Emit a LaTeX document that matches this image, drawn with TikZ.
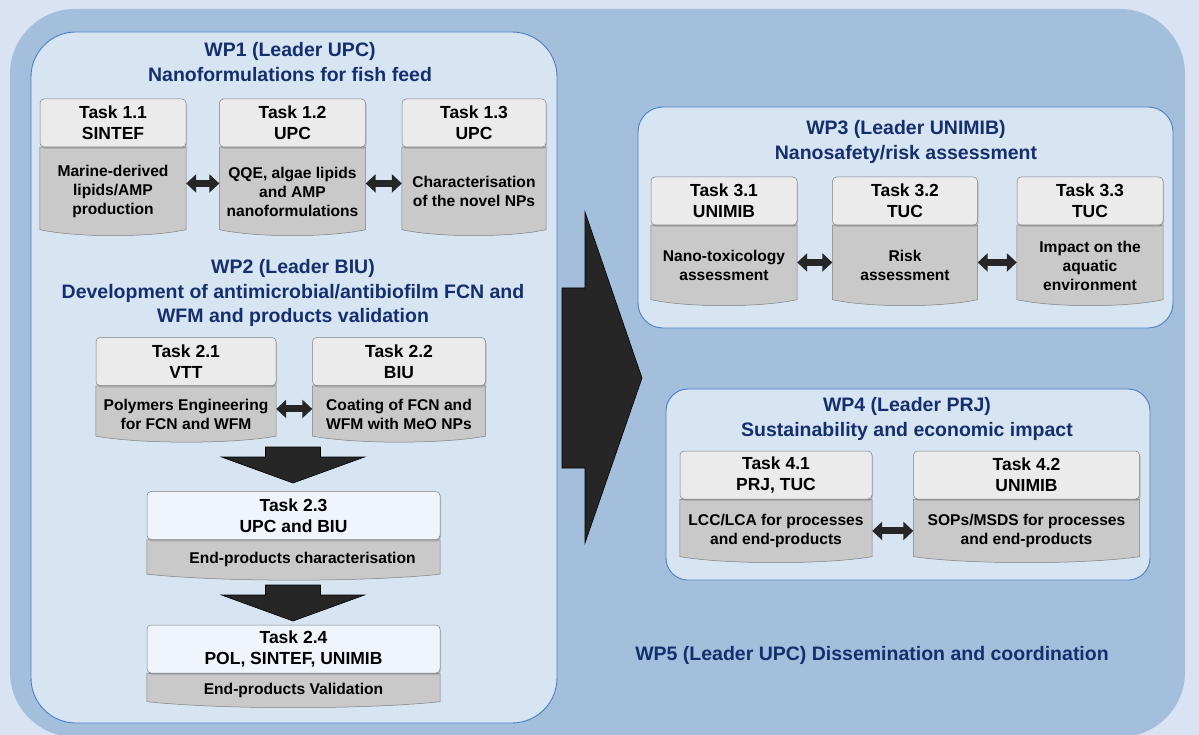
\documentclass[tikz,border=0pt]{standalone}
\usepackage{fontspec}
\setmainfont{Liberation Sans}
\usetikzlibrary{positioning, calc, shadows, arrows.meta}
\pgfdeclarelayer{back}
\pgfdeclarelayer{middle}
\pgfsetlayers{back,middle,main}
\definecolor{pagebg}{HTML}{DAE3F3}
\definecolor{panelblue}{HTML}{A3BFDB}
\definecolor{wpfill}{HTML}{D7E4F2}
\definecolor{wpline}{HTML}{4A7FC6}
\definecolor{wptext}{HTML}{142F6E}
\definecolor{headfill}{HTML}{EBEBEB}
\definecolor{headfilltwo}{HTML}{EFF5FB}
\definecolor{bodyfill}{HTML}{C9C9C9}
\definecolor{boxline}{HTML}{7F7F7F}
\definecolor{arrowfill}{HTML}{262626}
\tikzset{
  wp/.style={fill=wpfill, draw=wpline, line width=0.9pt}, % frame of a work package
  wptitle/.style={text=wptext, font=\fontsize{19.5}{24.5}\selectfont\bfseries, align=center, inner sep=0pt},
  taskhead/.style={
	fill=headfill, draw=boxline, line width=0.5pt,
	rounded corners=4pt, % soft corners on the header
	minimum height=48pt, inner sep=0pt, align=center,
	font=\fontsize{17.5}{21}\selectfont\bfseries,
	drop shadow={shadow xshift=1pt, shadow yshift=-2pt, opacity=0.35}, % shadow under the header
  },
  taskbody/.style={inner sep=0pt, align=center, font=\fontsize{15.6}{19}\selectfont\bfseries},
  bodyshape/.style={fill=bodyfill, draw=boxline, line width=0.5pt},
  duo/.style={arrowfill, line width=7pt, {Triangle[width=18pt,length=10pt]}-{Triangle[width=18pt,length=10pt]}}, % fat two-way arrow
  block/.style={fill=arrowfill, draw=black, line width=0.6pt},
}
\begin{document}
\begin{tikzpicture}[x=1pt, y=-1pt]
\useasboundingbox (0,0) rectangle (1199,735);
\begin{pgfonlayer}{back}
\fill[pagebg] (0,0) rectangle (1199,735);
\fill[panelblue, rounded corners=65pt] (10,9) rectangle (1185,737);
\draw[wp, rounded corners=45pt] (31,32) rectangle (557,723);
\draw[wp, rounded corners=25pt] (638,107) rectangle (1173,328);
\draw[wp, rounded corners=22pt] (666,389) rectangle (1150,580);
\end{pgfonlayer}

\node[wptitle] (wp1) at (290,62) {WP1 (Leader UPC)\\Nanoformulations for fish feed};
\node[wptitle] (wp2) at (293,293) {WP2 (Leader BIU)\\Development of antimicrobial/antibiofilm FCN and\\WFM and products validation};
\node[wptitle] (wp3) at (906,142) {WP3 (Leader UNIMIB)\\Nanosafety/risk assessment};
\node[wptitle] (wp4) at (907,419) {WP4 (Leader PRJ)\\Sustainability and economic impact};
\node[wptitle] (wp5) at (872,655) {WP5 (Leader UPC) Dissemination and coordination};

\node[taskhead, minimum width=146pt] (h11) at (113,123) {Task 1.1\\SINTEF};
\node[taskhead, minimum width=146pt, right=33pt of h11] (h12) {Task 1.2\\UPC};
\node[taskhead, minimum width=144pt, right=36pt of h12] (h13) {Task 1.3\\UPC};
\node[taskbody, minimum width=146pt, minimum height=88pt, below=0pt of h11] (b11) {Marine-derived\\lipids/AMP\\production};
\node[taskbody, minimum width=146pt, minimum height=88pt, below=0pt of h12] (b12) {QQE, algae lipids\\and AMP\\nanoformulations};
\node[taskbody, minimum width=144pt, minimum height=88pt, below=0pt of h13] (b13) {Characterisation\\of the novel NPs};

\node[taskhead, minimum width=180pt] (h21) at (186,361.5) {Task 2.1\\VTT};
\node[taskhead, minimum width=173pt, right=36pt of h21] (h22) {Task 2.2\\BIU};
\node[taskbody, minimum width=180pt, minimum height=56pt, below=0pt of h21] (b21) {Polymers Engineering\\for FCN and WFM};
\node[taskbody, minimum width=173pt, minimum height=56pt, below=0pt of h22] (b22) {Coating of FCN and\\WFM with MeO NPs};
\node[taskhead, fill=headfilltwo, minimum width=293pt] (h23) at (293.5,515.5) {Task 2.3\\UPC and BIU};
\node[taskbody, minimum width=293pt, minimum height=40pt, below=0pt of h23] (b23) {\hspace*{18pt}End-products characterisation};
\node[taskhead, fill=headfilltwo, minimum width=293pt] (h24) at (293.5,649) {Task 2.4\\POL, SINTEF, UNIMIB};
\node[taskbody, minimum width=293pt, minimum height=34pt, below=0pt of h24] (b24) {End-products Validation};

\node[taskhead, minimum width=146pt] (h31) at (724,201) {Task 3.1\\UNIMIB};
\node[taskhead, minimum width=145pt, right=35pt of h31] (h32) {Task 3.2\\TUC};
\node[taskhead, minimum width=146pt, right=39pt of h32] (h33) {Task 3.3\\TUC};
\node[taskbody, minimum width=146pt, minimum height=80pt, below=0pt of h31] (b31) {Nano-toxicology\\assessment};
\node[taskbody, minimum width=145pt, minimum height=80pt, below=0pt of h32] (b32) {Risk\\assessment};
\node[taskbody, minimum width=146pt, minimum height=80pt, below=0pt of h33] (b33) {Impact on the\\aquatic\\environment};

\node[taskhead, minimum width=192pt] (h41) at (776,475) {Task 4.1\\PRJ, TUC};
\node[taskhead, minimum width=226pt, right=41pt of h41] (h42) {Task 4.2\\UNIMIB};
\node[taskbody, minimum width=192pt, minimum height=63pt, below=0pt of h41] (b41) {LCC/LCA for processes\\and end-products};
\node[taskbody, minimum width=226pt, minimum height=63pt, below=0pt of h42] (b42) {SOPs/MSDS for processes\\and end-products};

\begin{pgfonlayer}{middle}
\foreach \b in {b11,b12,b13,b21,b22,b23,b24,b31,b32,b33,b41,b42}
  \draw[bodyshape] (\b.north west) -- ($(\b.south west)+(0,-6)$)
	.. controls ($(\b.south west)!0.25!(\b.south east)+(0,2)$) and ($(\b.south west)!0.75!(\b.south east)+(0,2)$) .. ($(\b.south east)+(0,-6)$)
	-- (\b.north east) -- cycle;
\end{pgfonlayer}

\draw[duo] ([yshift=8pt]b11.east) -- ([yshift=8pt]b12.west);
\draw[duo] ([yshift=8pt]b12.east) -- ([yshift=8pt]b13.west);
\draw[duo] ([yshift=5pt]b21.east) -- ([yshift=5pt]b22.west);
\draw[duo] ([yshift=3pt]b31.east) -- ([yshift=3pt]b32.west);
\draw[duo] ([yshift=3pt]b32.east) -- ([yshift=3pt]b33.west);
\draw[duo] (b41.east) -- (b42.west);

\coordinate (dn1) at (293,447);
\coordinate (dn2) at (293,585);
\foreach \c in {dn1,dn2}
  \draw[block, shift={(\c)}] (-27.5,0) -- (27.5,0) -- (27.5,10) -- (71.5,10) -- (0,36) -- (-71.5,10) -- (-27.5,10) -- cycle;
\coordinate (bigarrow) at (562,378);
\draw[block, shift={(bigarrow)}] (0,-90) -- (23,-90) -- (23,-166) -- (80,0) -- (23,165) -- (23,90) -- (0,90) -- cycle;
\end{tikzpicture}
\end{document}
